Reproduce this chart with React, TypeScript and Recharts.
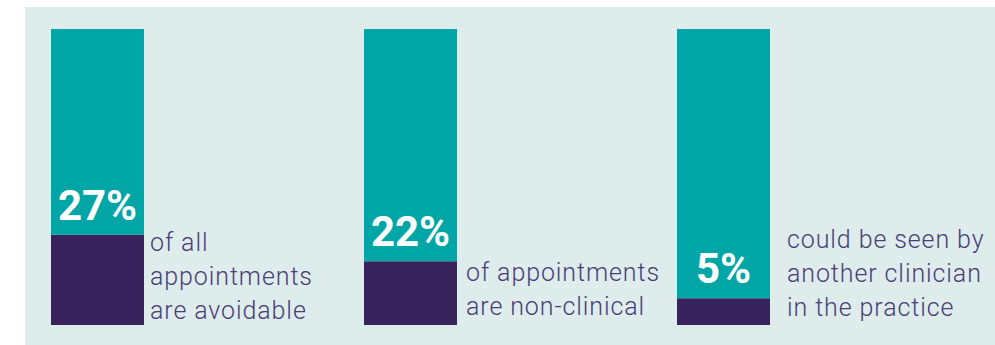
import React from 'react';
import { BarChart, Bar, XAxis, YAxis, LabelList } from 'recharts';

const categories = ['avoidable', 'nonClinical', 'otherClinician'];
const percentLabels = ['27%', '22%', '5%'];
// share of the bar painted dark, as drawn
const darkShare = [30.5, 21.5, 9];
const tealShare = [69.5, 78.5, 91];
const captions = [
  ['of all', 'appointments', 'are avoidable'],
  ['of appointments', 'are non-clinical'],
  ['could be seen by', 'another clinician', 'in the practice'],
];

const data = categories.map((name, i) => ({
  name,
  dark: darkShare[i],
  teal: tealShare[i],
}));

const TEAL = '#00a6a6';
const DARK = '#38235c';
const TEXT = '#4a3e78';

// caption offsets next to each bar: [gap from bar, lift from bar bottom]
const captionGap = [6, 9, 17];
const captionLift = [6, 10, 9];

const renderCaption = (props: any) => {
  const { x, y, width, height, index } = props;
  const lines = captions[index];
  const left = x + width + captionGap[index];
  const lastBase = y + height - captionLift[index];
  const lh = 34;
  return (
    <g>
      <text
        x={x + width / 2}
        y={y - 15}
        textAnchor="middle"
        fill="#ffffff"
        fontFamily="Roboto, sans-serif"
        fontWeight={700}
        fontSize={42}
      >
        {percentLabels[index]}
      </text>
      {lines.map((line, j) => (
        <text
          key={j}
          x={left}
          y={lastBase - (lines.length - 1 - j) * lh}
          fill={TEXT}
          fontFamily="Roboto, sans-serif"
          fontWeight={300}
          fontSize={25}
          letterSpacing={0.9}
        >
          {line}
        </text>
      ))}
    </g>
  );
};

const App: React.FC = () => {
  return (
    <div style={{ position: 'fixed', left: 0, top: 0, width: 995, height: 345, background: '#ffffff' }}>
      <div style={{ position: 'absolute', left: 25, top: 7, right: 0, bottom: 0, background: '#deecec' }} />
      <div style={{ position: 'absolute', left: 0, top: 0 }}>
        <BarChart
          width={995}
          height={345}
          data={data}
          margin={{ top: 29, right: 115, left: -59, bottom: 20 }}
          barSize={93}
        >
          <XAxis dataKey="name" hide />
          <YAxis hide domain={[0, 100]} />
          <Bar dataKey="dark" stackId="a" fill={DARK} isAnimationActive={false}>
            <LabelList dataKey="dark" content={renderCaption} />
          </Bar>
          <Bar dataKey="teal" stackId="a" fill={TEAL} isAnimationActive={false} />
        </BarChart>
      </div>
    </div>
  );
};

export default App;
